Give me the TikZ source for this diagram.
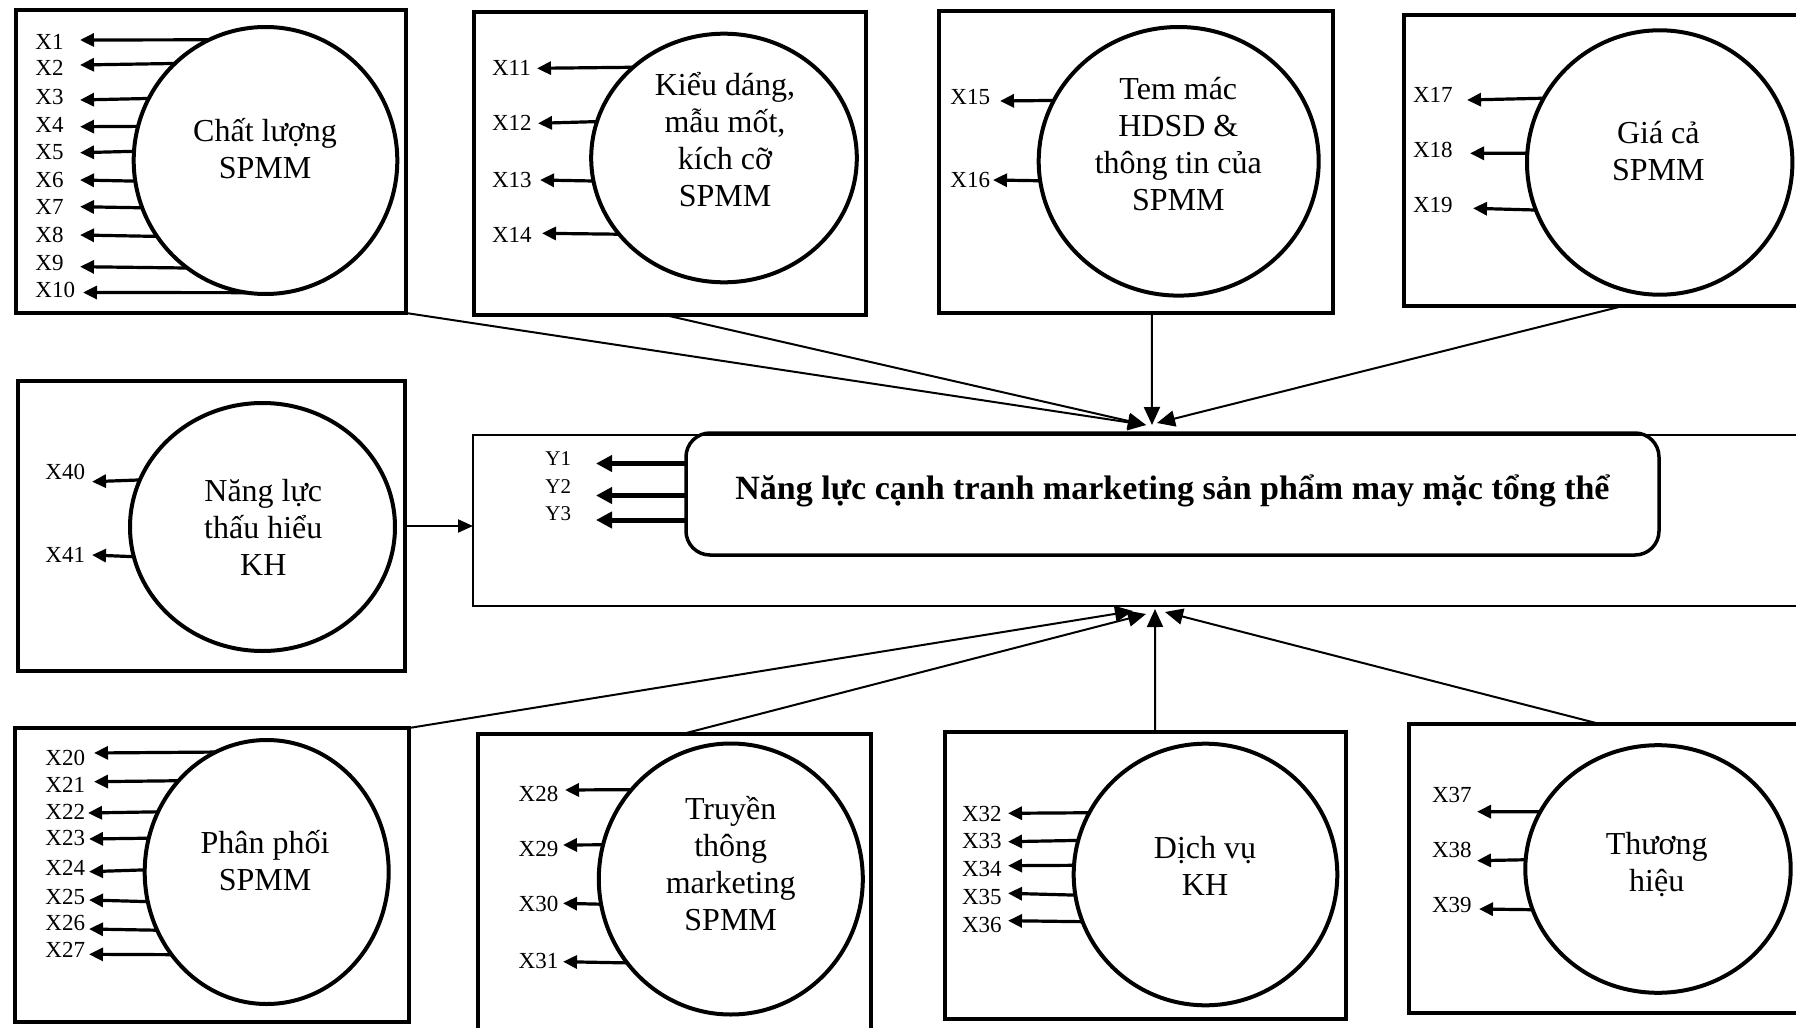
\documentclass[tikz,border=0pt]{standalone}
\usepackage{fontspec}
\setmainfont{Liberation Serif}
\usetikzlibrary{arrows.meta,shapes.geometric,fit,calc}

% indicator arrows of one factor: circle, cx, cy, rx, ry, label x, list name/label y/arrow y/tip x
\newcommand\indicatorset[7]{%
  \foreach \nm/\ly/\ay/\tx in {#7} {
    \pgfmathsetmacro\dyv{#3-\ay}
    \pgfmathsetmacro\angv{atan2(\dyv,-#4*sqrt(max(0,1-(\dyv/#5)^2)))}
    \node[xlab] (\nm) at (#6,\ly) {\nm};
    \coordinate (tip\nm) at (\tx,\ay);
    \draw[ind] (#1.\angv) -- (tip\nm);
  }}

\begin{document}
\begin{tikzpicture}[x=0.5pt,y=-0.5pt,
  boxframe/.style={draw, line width=2pt, inner sep=0pt, outer sep=0pt},
  factor/.style={ellipse, draw, line width=2pt, inner sep=0pt, outer sep=0pt},
  ftext/.style={anchor=base, align=center, inner sep=0pt, font=\fontsize{16}{18.5}\selectfont},
  xlab/.style={anchor=west, inner sep=0pt, font=\fontsize{11.5}{13}\selectfont},
  ylab/.style={anchor=west, inner sep=0pt, font=\fontsize{10.5}{12}\selectfont},
  ind/.style={line width=1.6pt, -{Triangle[length=7pt,width=6.5pt]}},
  yind/.style={line width=2.5pt, -{Triangle[length=8pt,width=8pt]}},
  link/.style={line width=1pt, -{Triangle[length=9pt,width=8pt]}},
  feed/.style={line width=1pt, -{Triangle[length=7.5pt,width=6.5pt]}}
]
\path[use as bounding box] (0,0) rectangle (1796,1028);
\fill[white] (0,0) rectangle (1796,1028);
\clip (0,0) rectangle (1796,1028);

% factor frames
\node[boxframe, fit={(16,10)(406,313)}] (b1) {};
\node[boxframe, fit={(474,12)(866,315)}] (b2) {};
\node[boxframe, fit={(939,11)(1333,313)}] (b3) {};
\node[boxframe, fit={(1404,15)(1810,306)}] (b4) {};
\node[boxframe, fit={(18,381)(405,671)}] (b5) {};
\node[boxframe, fit={(15,728)(409,1022)}] (b6) {};
\node[boxframe, fit={(478,734)(871,1040)}] (b7) {};
\node[boxframe, fit={(945,732)(1346,1019)}] (b8) {};
\node[boxframe, fit={(1409,724)(1810,1013)}] (b9) {};

% outcome frame and construct
\node[draw, line width=1pt, inner sep=0pt, outer sep=0pt, fit={(473,435)(1810,606)}] (frame) {};
\node[draw, line width=1.75pt, rounded corners=12pt, inner sep=0pt, outer sep=0pt,
      minimum width=486.5pt, minimum height=61pt, text height=12pt, text depth=7pt,
      font=\fontsize{17}{20}\selectfont\bfseries] (title) at (1172.5,494)
      {Năng lực cạnh tranh marketing sản phẩm may mặc tổng thể};

% latent factors
\node[factor, minimum width=131.8pt, minimum height=133.5pt] (c1) at (265.5,160.5) {};
\node[factor, minimum width=132.8pt, minimum height=124.3pt] (c2) at (724,158) {};
\node[factor, minimum width=140pt, minimum height=134.3pt] (c3) at (1178.7,161.3) {};
\node[factor, minimum width=132.7pt, minimum height=132.2pt] (c4) at (1659.7,162.5) {};
\node[factor, minimum width=132.5pt, minimum height=124pt] (c5) at (262.5,527) {};
\node[factor, minimum width=122pt, minimum height=132pt] (c6) at (266.7,872) {};
\node[factor, minimum width=132pt, minimum height=135.5pt] (c7) at (730.8,879) {};
\node[factor, minimum width=131.8pt, minimum height=130.8pt] (c8) at (1205.5,874.5) {};
\node[factor, minimum width=132.7pt, minimum height=123.8pt] (c9) at (1658,869) {};

% factor names, placed by the baseline of their last line
\node[ftext] (t1) at (265,178) {Chất lượng\\SPMM};
\node[ftext] (t2) at (725,206.7) {Kiểu dáng,\\mẫu mốt,\\kích cỡ\\SPMM};
\node[ftext] (t3) at (1178.3,210) {Tem mác\\HDSD \&\\thông tin của\\SPMM};
\node[ftext] (t4) at (1658.3,180) {Giá cả\\SPMM};
\node[ftext] (t5) at (263.3,575) {Năng lực\\thấu hiểu\\KH};
\node[ftext] (t6) at (265,890) {Phân phối\\SPMM};
\node[ftext] (t7) at (730.7,930) {Truyền\\thông\\marketing\\SPMM};
\node[ftext] (t8) at (1205,895) {Dịch vụ\\KH};
\node[ftext] (t9) at (1656.7,891.7) {Thương\\hiệu};

% observed indicators
\indicatorset{c1}{265.5}{160.5}{131.8}{133.5}{35}{X1/41.7/40/80, X2/68.3/65/80, X3/96.7/100/80, X4/125/126.7/80, X5/151.7/152.7/80, X6/180/180/80, X7/206.7/206.7/80, X8/235/235/80, X9/263.3/266.7/80, X10/290/292.5/83}
\indicatorset{c2}{724}{158}{132.8}{124.3}{491.7}{X11/68.3/68.3/537, X12/123.3/123.3/538, X13/180/180/540, X14/235/233.3/542}
\indicatorset{c3}{1178.7}{161.3}{140}{134.3}{950}{X15/96.7/101/1000, X16/180/180/993}
\indicatorset{c4}{1659.7}{162.5}{132.7}{132.2}{1412.7}{X17/95/100/1467, X18/150/153.3/1470, X19/205/208.3/1473}
\indicatorset{c5}{262.5}{527}{132.5}{124}{45}{X40/471.7/481.7/92, X41/555/555/92}
\indicatorset{c6}{266.7}{872}{122}{132}{45}{X20/757.7/753/94, X21/785/781.7/94, X22/811.7/813/88, X23/838.3/839/89, X24/868.3/871.7/89, X25/896.7/900/89, X26/923.3/929/89, X27/950/954.3/89}
\indicatorset{c7}{730.8}{879}{132}{135.5}{518.3}{X28/794/790/565, X29/849/845/563, X30/904/903.3/563, X31/960.7/961.7/563}
\indicatorset{c8}{1205.5}{874.5}{131.8}{130.8}{961.7}{X32/814.3/813.3/1008, X33/841/841.7/1008, X34/869.3/865.7/1008, X35/896.7/893.3/1008, X36/925/920.7/1008}
\indicatorset{c9}{1658}{869}{132.7}{123.8}{1431.7}{X37/795/811.7/1477, X38/850/860.7/1477, X39/905/909/1479}

% outcome indicators
\foreach \nm/\ly/\ay in {Y1/459/463.5, Y2/487/495.5, Y3/514/520} {
  \node[ylab] (\nm) at (545,\ly) {\nm};
  \coordinate (tip\nm) at (596,\ay);
  \draw[yind] (tip\nm -| title.west) -- (tip\nm);
}

% paths into the overall construct
\coordinate (inA) at (1146,425);
\coordinate (inB) at (1152,425);
\coordinate (inC) at (1157,423);
\coordinate (inD) at (1133,611);
\coordinate (inE) at (1146,614);
\coordinate (inF) at (1155,609);
\coordinate (inG) at (1165,612);

\draw[link] (b1.south east) -- (inA);
\draw[link] ($(b2.south west)!0.487!(b2.south east)$) -- (inA);
\draw[link] ($(b3.south west)!0.54!(b3.south east)$) -- (inB);
\draw[link] ($(b4.south west)!0.539!(b4.south east)$) -- (inC);
\draw[link] (b6.north east) -- (inD);
\draw[link] ($(b7.north west)!0.52!(b7.north east)$) -- (inE);
\draw[link] ($(b8.north west)!0.524!(b8.north east)$) -- (inF);
\draw[link] ($(b9.north west)!0.476!(b9.north east)$) -- (inG);
\draw[feed] (b5.east) -- (b5.east -| frame.west);
\end{tikzpicture}
\end{document}
